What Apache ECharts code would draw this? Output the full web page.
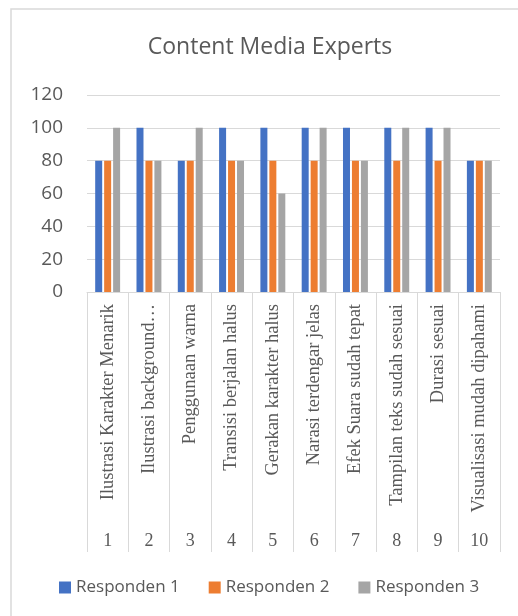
<!DOCTYPE html>
<html>
<head>
<meta charset="utf-8">
<script src="https://cdn.jsdelivr.net/npm/echarts@6/dist/echarts.min.js"></script>
<style>
  html, body { margin: 0; padding: 0; background: #fff; }
  #chart { width: 518px; height: 616px; }
</style>
</head>
<body>
<div id="chart"></div>
<script>
// data
var categories = [
  'Ilustrasi Karakter Menarik',
  'Ilustrasi background…',
  'Penggunaan warna',
  'Transisi berjalan halus',
  'Gerakan karakter halus',
  'Narasi terdengar jelas',
  'Efek Suara sudah tepat',
  'Tampilan teks sudah sesuai',
  'Durasi sesuai',
  'Visualisasi mudah dipahami'
];
var numbers = ['1', '2', '3', '4', '5', '6', '7', '8', '9', '10'];
var responden1 = [80, 100, 80, 100, 100, 100, 100, 100, 100, 80];
var responden2 = [80, 80, 80, 80, 80, 80, 80, 80, 80, 80];
var responden3 = [100, 80, 100, 80, 60, 100, 80, 100, 100, 80];
var yTicks = [0, 20, 40, 60, 80, 100, 120];

var sans = '"Open Sans", "Noto Sans", sans-serif';
var serif = '"Liberation Serif", "DejaVu Serif", serif';
var textColor = '#595959';
var lineColor = '#d9d9d9';

function barSeries(name, data, color) {
  return {
    name: name,
    type: 'bar',
    data: data,
    barWidth: 7,
    barGap: '28%',
    itemStyle: { color: color }
  };
}

var chart = echarts.init(document.getElementById('chart'));

var option = {
  backgroundColor: '#fff',
  animation: false,
  title: {
    text: 'Content Media Experts',
    left: 265,
    top: 31,
    textAlign: 'center',
    textStyle: {
      fontFamily: sans,
      fontSize: 23,
      fontWeight: 'normal',
      color: textColor
    }
  },
  legend: {
    left: 59,
    top: 579,
    padding: 0,
    icon: 'rect',
    itemWidth: 12,
    itemHeight: 12,
    itemGap: 29,
    textStyle: { fontFamily: sans, fontSize: 17, color: textColor },
    data: ['Responden 1', 'Responden 2', 'Responden 3']
  },
  grid: {
    left: 87,
    right: 18,
    top: 95,
    bottom: 324,
    containLabel: false
  },
  xAxis: [{
    type: 'category',
    data: categories,
    axisLine: { show: true, lineStyle: { color: lineColor } },
    axisTick: { show: true, length: 260, interval: 0, lineStyle: { color: lineColor } },
    axisLabel: {
      rotate: 90,
      interval: 0,
      margin: 12,
      fontFamily: serif,
      fontSize: 18.5,
      color: textColor
    }
  }, {
    type: 'category',
    data: numbers,
    position: 'bottom',
    offset: 236,
    axisLine: { show: false },
    axisTick: { show: false },
    axisLabel: {
      interval: 0,
      margin: 4,
      fontFamily: serif,
      fontSize: 18,
      color: textColor
    }
  }],
  yAxis: {
    type: 'value',
    min: yTicks[0],
    max: yTicks[yTicks.length - 1],
    interval: 20,
    axisLine: { show: false },
    axisTick: { show: false },
    splitLine: { lineStyle: { color: lineColor } },
    axisLabel: {
      margin: 24,
      fontFamily: sans,
      fontSize: 19,
      color: textColor
    }
  },
  graphic: [{
    type: 'polyline',
    shape: { points: [[11, 616], [11, 9], [518, 9]] },
    style: { stroke: lineColor, fill: null, lineWidth: 1.5 }
  }],
  series: [
    barSeries('Responden 1', responden1, '#4472C4'),
    barSeries('Responden 2', responden2, '#ED7D31'),
    barSeries('Responden 3', responden3, '#A5A5A5')
  ]
};

chart.setOption(option);
</script>
</body>
</html>
